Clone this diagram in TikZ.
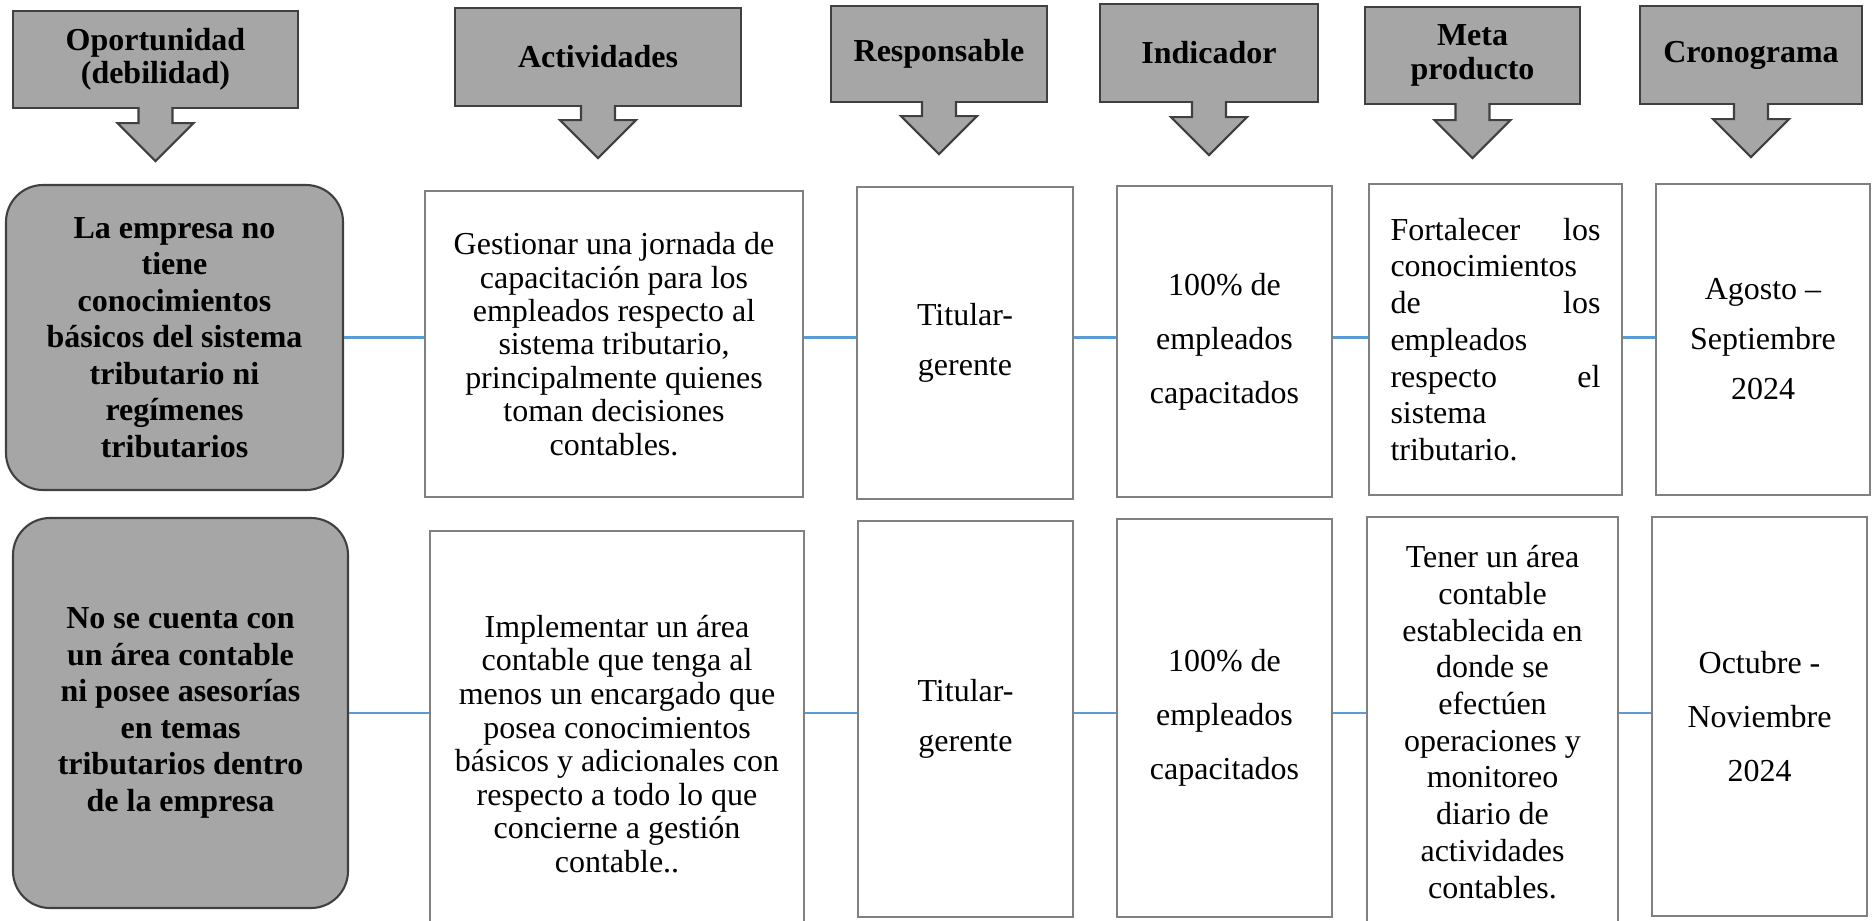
\documentclass[tikz,border=0pt]{standalone}
\usepackage{fontspec}
\setmainfont{Liberation Serif}
\usepackage{xcolor}
\definecolor{hdfill}{RGB}{166,166,166}
\definecolor{hdline}{RGB}{64,64,64}
\definecolor{cellline}{RGB}{128,128,128}
\definecolor{linkblue}{RGB}{91,155,213}
\usepackage{tikz}
\usetikzlibrary{positioning, calc}
\tikzstyle{box} = [
    rectangle, text centered,
    align=center,
]
\tikzstyle{head} = [
    box,
    draw=hdline,
    fill=hdfill,
    line width=0.6pt,
    font=\bfseries\fontsize{9.1}{9.5}\selectfont,
]
\tikzstyle{headarrow} = [
    draw=hdline,
    fill=hdfill,
    line width=0.6pt,
]
\tikzstyle{issue} = [
    box,
    draw=hdline,
    fill=hdfill,
    line width=0.6pt,
    rounded corners=3.7mm,
    font=\bfseries\fontsize{9.1}{10.4}\selectfont,
]
\tikzstyle{cell} = [
    box,
    draw=cellline,
    line width=0.8pt,
    font=\fontsize{9.1}{9.5}\selectfont,
]
\tikzstyle{link} = [draw=linkblue, line width=0.6pt]

\begin{document}
\begin{tikzpicture}[x=0.1mm, y=-0.1mm]
    \useasboundingbox (0,0) rectangle (1872,920);

    % headers
    \foreach \n/\xl/\xr/\yt/\yb/\ty/\txt in {
        opp/13/298/11/108/160/{Oportunidad\\(debilidad)},
        act/455/741/8/106/157/{Actividades},
        resp/831/1047/6/102/153/{Responsable},
        ind/1100/1318/4/102/154/{Indicador},
        meta/1365/1580/7/104/157/{Meta\\producto},
        cron/1640/1862/6/104/156/{Cronograma}} {
        \node (h\n) at ({(\xl+\xr)/2},{(\yt+\yb)/2}) [head,
            minimum width={(\xr-\xl)*0.1mm},
            minimum height={(\yb-\yt)*0.1mm}] {\txt};
        \draw [headarrow] (h\n.south) ++(-17,-2) -- ++(0,{\ty-36-\yb})
            -- ++(-21,0) -- ++(38,38) -- ++(38,-38) -- ++(-21,0)
            -- ++(0,{\yb-\ty+36});
    }

    % row 1
    \node (opp1) at (174.5,337.5) [issue, minimum width=33.7mm, minimum height=30.5mm]
        {La empresa no\\tiene\\conocimientos\\básicos del sistema\\tributario ni\\regímenes\\tributarios};
    \node (act1) at (614,344) [cell, minimum width=37.8mm, minimum height=30.6mm]
        {Gestionar una jornada de\\capacitación para los\\empleados respecto al\\sistema tributario,\\principalmente quienes\\toman decisiones\\contables.};
    \node (resp1) at (965,343) [cell, minimum width=21.6mm, minimum height=31.2mm,
        font=\fontsize{9.1}{14.2}\selectfont] {Titular-\\gerente};
    \node (ind1) at (1224.5,341.5) [cell, minimum width=21.5mm, minimum height=31.1mm,
        font=\fontsize{9.1}{15.4}\selectfont] {100\% de\\empleados\\capacitados};
    \node (meta1) at (1495.5,339.5) [cell, minimum width=25.3mm, minimum height=31.1mm,
        align=left, text width=21mm, font=\fontsize{9.1}{10.44}\selectfont]
        {Fortalecer\hfill los\\conocimientos\\de\hfill los\\empleados\\respecto\hfill el\\sistema\\tributario.};
    \node (cron1) at (1763,339.5) [cell, minimum width=21.4mm, minimum height=31.1mm,
        font=\fontsize{9.1}{14.2}\selectfont] {Agosto –\\Septiembre\\2024};

    % row 2
    \node (opp2) at (180.5,713) [issue, minimum width=33.5mm, minimum height=39mm]
        {No se cuenta con\\un área contable\\ni posee asesorías\\en temas\\tributarios dentro\\de la empresa};
    \node (act2) at (617,744) [cell, minimum width=37.4mm, minimum height=42.6mm,
        font=\fontsize{9.1}{9.56}\selectfont]
        {Implementar un área\\contable que tenga al\\menos un encargado que\\posea conocimientos\\básicos y adicionales con\\respecto a todo lo que\\concierne a gestión\\contable..};
    \node (resp2) at (965.5,719) [cell, minimum width=21.5mm, minimum height=39.6mm,
        font=\fontsize{9.1}{14.2}\selectfont] {Titular-\\gerente};
    \node (ind2) at (1224.5,718) [cell, minimum width=21.5mm, minimum height=39.8mm,
        font=\fontsize{9.1}{15.4}\selectfont] {100\% de\\empleados\\capacitados};
    \node (meta2) at (1492.5,722) [cell, minimum width=25.1mm, minimum height=41mm,
        font=\fontsize{9.1}{10.44}\selectfont]
        {Tener un área\\contable\\establecida en\\donde se\\efectúen\\operaciones y\\monitoreo\\diario de\\actividades\\contables.};
    \node (cron2) at (1759.5,716.5) [cell, minimum width=21.5mm, minimum height=39.9mm,
        font=\fontsize{9.1}{15.4}\selectfont] {Octubre -\\Noviembre\\2024};

    % links
    \foreach \a/\b in {opp/act, act/resp, resp/ind, ind/meta, meta/cron} {
        \foreach \r in {1,2}
            \draw [link] (\a\r.east |- opp\r.center) -- (\b\r.west |- opp\r.center);
    }

\end{tikzpicture}
\end{document}
